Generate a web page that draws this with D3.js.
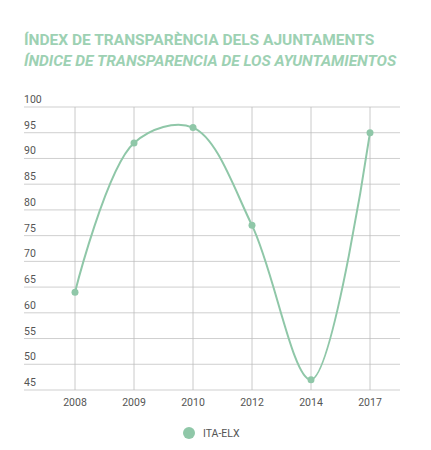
<!DOCTYPE html>
<html><head><meta charset="utf-8">
<script src="https://cdn.jsdelivr.net/npm/d3@7"></script>
<style>body{margin:0;background:#fff;font-family:Roboto,sans-serif}</style>
</head><body>
<svg id="c" width="431" height="450"></svg>
<script>
const years = ["2008", "2009", "2010", "2012", "2014", "2017"];
const values = [64, 93, 96, 77, 47, 95];
const yTicks = [45, 50, 55, 60, 65, 70, 75, 80, 85, 90, 95, 100];
const seriesName = "ITA-ELX";
const green = "#8fc7a8";

const svg = d3.select("#c");
svg.append("text").attr("x", 24).attr("y", 45).attr("fill", "#9dd1b3")
  .attr("font-size", 15.5).attr("font-weight", "bold").text("ÍNDEX DE TRANSPARÈNCIA DELS AJUNTAMENTS");
svg.append("text").attr("x", 24).attr("y", 66).attr("fill", "#9dd1b3")
  .attr("font-size", 15.5).attr("font-weight", "bold").attr("font-style", "italic")
  .text("ÍNDICE DE TRANSPARENCIA DE LOS AYUNTAMIENTOS");

const plotLeft = 24, plotRight = 400, plotTop = 107, plotBottom = 390;
const x = d3.scalePoint().domain(years).range([75, 370]);
const y = d3.scaleLinear().domain([45, 100]).range([plotBottom, plotTop]);

const g = svg.append("g");
g.selectAll(".h").data(yTicks).enter().append("line")
  .attr("x1", plotLeft).attr("x2", plotRight).attr("y1", d => y(d)).attr("y2", d => y(d))
  .attr("stroke", "#cfcfcf").attr("stroke-width", 1);
g.selectAll(".v").data(years).enter().append("line")
  .attr("x1", d => x(d)).attr("x2", d => x(d)).attr("y1", plotTop).attr("y2", plotBottom)
  .attr("stroke", "#bdbdbd").attr("stroke-width", 0.8);
g.selectAll(".yl").data(yTicks).enter().append("text")
  .attr("x", plotLeft).attr("y", d => y(d) - 4).attr("font-size", 10.5).attr("fill", "#555")
  .text(d => d);
g.selectAll(".xl").data(years).enter().append("text")
  .attr("x", d => x(d)).attr("y", 406).attr("text-anchor", "middle")
  .attr("font-size", 10.5).attr("fill", "#555").text(d => d);

const line = d3.line().x((d, i) => x(years[i])).y(d => y(d)).curve(d3.curveCatmullRom.alpha(0.5));
svg.append("path").datum(values).attr("d", line).attr("fill", "none")
  .attr("stroke", green).attr("stroke-width", 2);
svg.selectAll(".pt").data(values).enter().append("circle")
  .attr("cx", (d, i) => x(years[i])).attr("cy", d => y(d)).attr("r", 3.5).attr("fill", green);

svg.append("circle").attr("cx", 189).attr("cy", 433).attr("r", 6).attr("fill", green);
svg.append("text").attr("x", 203).attr("y", 437).attr("font-size", 10.5).attr("fill", "#555").text(seriesName);
</script>
</body></html>
